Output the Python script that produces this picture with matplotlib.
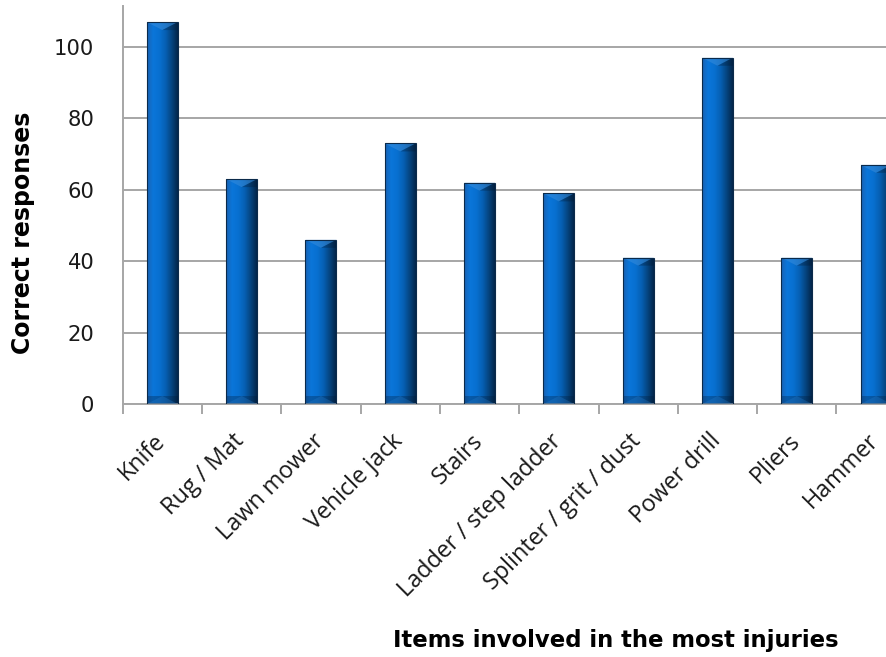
import numpy as np
import matplotlib
matplotlib.use("Agg")
import matplotlib.pyplot as plt
import matplotlib.transforms as mtransforms
from matplotlib.colors import LinearSegmentedColormap
from matplotlib.patches import Polygon

categories = ["Knife", "Rug / Mat", "Lawn mower", "Vehicle jack", "Stairs",
              "Ladder / step ladder", "Splinter / grit / dust", "Power drill",
              "Pliers", "Hammer"]
responses = [107, 63, 46, 73, 62, 59, 41, 97, 41, 67]
yticks = [0, 20, 40, 60, 80, 100]

W, H = 887, 657
fig = plt.figure(figsize=(W / 100, H / 100), dpi=100)
ax = fig.add_axes([122.7 / W, 253 / H, 793 / W, 398 / H])

x = np.arange(len(categories))
bars = ax.bar(x, responses, width=0.39, facecolor="none", edgecolor="#0b2a4a",
              linewidth=0.8, zorder=3)

# horizontal shading across each column
shade = LinearSegmentedColormap.from_list(
    "col", ["#1a62b2", "#0a76da", "#0870d0", "#0660b4", "#05447f", "#03254a"])
grad = np.linspace(0, 1, 256).reshape(1, -1)
px_per_unit = 398 / 111.5
bev = 8 / px_per_unit
for b in bars:
    x0, w, h = b.get_x(), b.get_width(), b.get_height()
    im = ax.imshow(grad, cmap=shade, aspect="auto", extent=[x0, x0 + w, 0, h],
                   zorder=2.5, interpolation="bicubic")
    im.set_clip_path(b)
    # top bevel: lighter wedge
    ax.add_patch(Polygon([[x0, h], [x0 + w, h], [x0 + w / 2, h - bev]],
                         closed=True, facecolor="#3d8fdc", alpha=0.5,
                         edgecolor="none", zorder=2.7))
    ax.add_patch(Polygon([[x0 + w, h], [x0 + w / 2, h - bev], [x0 + w, h - bev]],
                         closed=True, facecolor="#02162c", alpha=0.3,
                         edgecolor="none", zorder=2.7))
    # bottom bevel: darker band with lighter centre wedge
    ax.add_patch(Polygon([[x0, 0], [x0 + w, 0], [x0 + w, bev], [x0, bev]],
                         closed=True, facecolor="#021a36", alpha=0.3,
                         edgecolor="none", zorder=2.7))
    ax.add_patch(Polygon([[x0, 0], [x0 + w, 0], [x0 + w / 2, bev]],
                         closed=True, facecolor="#2a7fcf", alpha=0.3,
                         edgecolor="none", zorder=2.8))

ax.set_xlim(-0.5, len(categories) - 0.5)
ax.set_ylim(0, 111.5)
ax.set_yticks(yticks)
ax.set_yticklabels([str(v) for v in yticks], fontsize=15.2,
                   family="DejaVu Sans", color="#1a1a1a")
ax.yaxis.grid(True, color="#a6a6a6", linewidth=1.4, zorder=0)
ax.set_axisbelow(True)
ax.tick_params(axis="y", length=0, pad=20.5)

ax.set_xticks(np.arange(-0.5, len(categories), 1.0))
ax.set_xticklabels([])
ax.tick_params(axis="x", length=7, width=1.4, color="#a6a6a6", direction="out")
ax.set_xticks(x, minor=True)
labels = ax.set_xticklabels(categories, minor=True, rotation=45, ha="right",
                            va="top", rotation_mode="anchor", fontsize=16.8,
                            family="Open Sans", color="#1a1a1a")
ax.tick_params(axis="x", which="minor", length=0, pad=18)
shift = mtransforms.ScaledTranslation(-9 / 100, 0, fig.dpi_scale_trans)
for t in labels:
    t.set_transform(t.get_transform() + shift)

for s in ["top", "right"]:
    ax.spines[s].set_visible(False)
for s in ["left", "bottom"]:
    ax.spines[s].set_color("#a6a6a6")
    ax.spines[s].set_linewidth(1.4)

fig.text(616 / W, 1 - 640 / H, "Items involved in the most injuries",
         ha="center", va="center", fontsize=16.4, fontweight="bold",
         family="DejaVu Sans")
fig.text(23 / W, 1 - 233 / H, "Correct responses", ha="center", va="center",
         rotation=90, fontsize=17, fontweight="bold", family="DejaVu Sans")

fig.savefig("out.png", dpi=100)
